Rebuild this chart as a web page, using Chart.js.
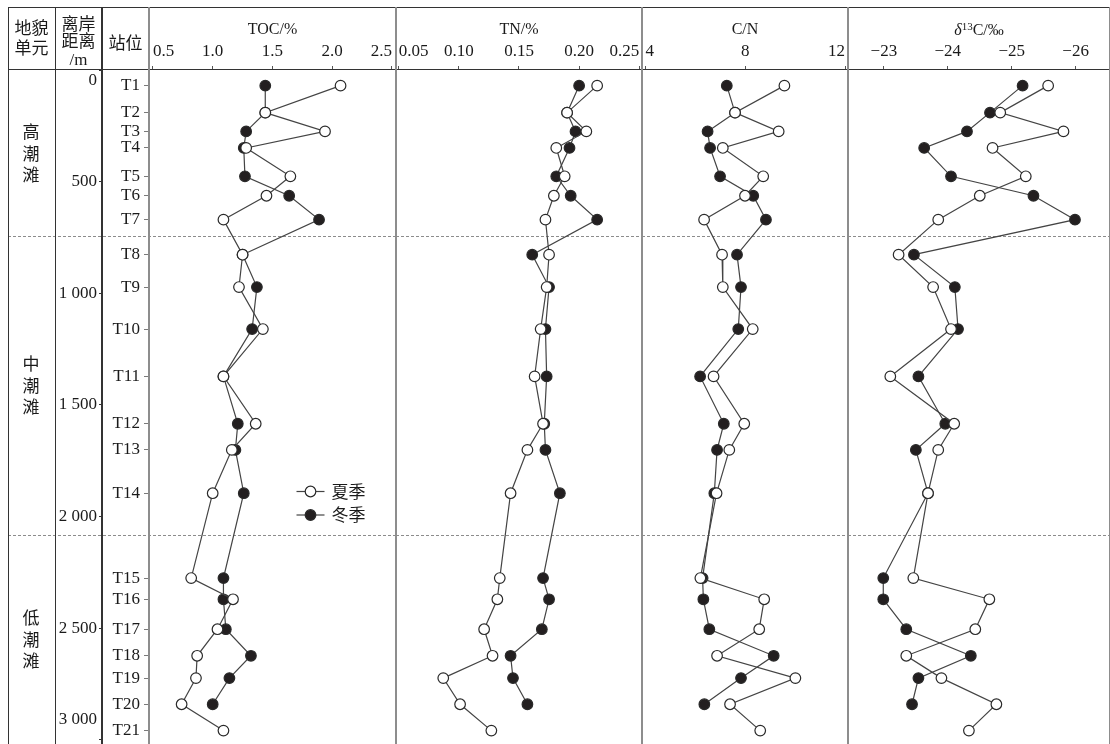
<!DOCTYPE html>
<html lang="zh">
<head>
<meta charset="UTF-8">
<title>潮滩沉积物 TOC、TN、C/N 与 δ13C 剖面</title>
<script src="https://cdn.jsdelivr.net/npm/chart.js"></script>
<style>
    body { margin: 0; background: #fff; }
    #fig {
        position: relative;
        width: 1110px;
        height: 744px;
        background: #fff;
        color: #1a1a1a;
        font-family: 'Liberation Serif', 'Noto Sans CJK SC', serif;
    }
    #fig canvas { position: absolute; top: 0; }
    .ln { position: absolute; background: #333; }
    .ln.v { top: 6.5px; height: 738px; width: 1.5px; }
    .ln.h { left: 8px; width: 1102px; height: 1.5px; }
    .ln.g { background: #8d8d8d; }
    .hd {
        position: absolute;
        text-align: center;
        font-size: 17px;
        font-family: 'Noto Sans CJK SC', sans-serif;
    }
    .hd .lat { font-family: 'Liberation Serif', serif; }
</style>
</head>
<body>
<div id="fig">
    <canvas id="cToc" style="left:8px" width="388" height="744"></canvas>
    <canvas id="cTn" style="left:396px" width="246" height="744"></canvas>
    <canvas id="cCn" style="left:642px" width="206" height="744"></canvas>
    <canvas id="cD13" style="left:848px" width="262" height="744"></canvas>

    <!-- table frame -->
    <div class="ln h" style="top:6.5px"></div>
    <div class="ln h" style="top:68.8px"></div>
    <div class="ln v" style="left:7.5px"></div>
    <div class="ln v" style="left:54.5px"></div>
    <div class="ln v" style="left:101px"></div>
    <div class="ln v g" style="left:148.3px"></div>
    <div class="ln v g" style="left:395.3px"></div>
    <div class="ln v g" style="left:641.3px"></div>
    <div class="ln v g" style="left:847.3px"></div>
    <div class="ln v g" style="left:1108.5px"></div>

    <!-- header cells of the left columns -->
    <div class="hd" style="left:8px; width:47px; top:17px; line-height:19.5px">地貌<br>单元</div>
    <div class="hd" style="left:55px; width:47px; top:13.5px; line-height:17.5px">离岸<br>距离<br><span class="lat">/m</span></div>
    <div class="hd" style="left:102px; width:47px; top:32px; line-height:19.5px">站位</div>
</div>

<script>
    // stations and their distance from shore (m)
    const stations = ['T1', 'T2', 'T3', 'T4', 'T5', 'T6', 'T7', 'T8', 'T9', 'T10', 'T11',
        'T12', 'T13', 'T14', 'T15', 'T16', 'T17', 'T18', 'T19', 'T20', 'T21'];
    const distance = [70, 191, 275, 349, 476, 563, 670, 827, 972, 1160, 1372,
        1584, 1701, 1895, 2275, 2370, 2504, 2623, 2723, 2840, 2958];
    const distTicks = [0, 500, 1000, 1500, 2000, 2500, 3000];
    const yMax = 3018;

    // geomorphic units
    const zoneNames = ['高潮滩', '中潮滩', '低潮滩'];
    const zoneEdges = [0, 745, 2080, 3018];

    // series (summer / winter), T21 has no winter sample
    const tocSummer = [2.07, 1.44, 1.94, 1.28, 1.65, 1.45, 1.09, 1.25, 1.22, 1.42, 1.09,
        1.36, 1.16, 1.00, 0.82, 1.17, 1.04, 0.87, 0.86, 0.74, 1.09];
    const tocWinter = [1.44, 1.44, 1.28, 1.26, 1.27, 1.64, 1.89, 1.25, 1.37, 1.33, 1.09,
        1.21, 1.19, 1.26, 1.09, 1.09, 1.11, 1.32, 1.14, 1.00, null];
    const tnSummer = [0.215, 0.190, 0.206, 0.181, 0.188, 0.179, 0.172, 0.175, 0.173, 0.168, 0.163,
        0.170, 0.157, 0.143, 0.134, 0.132, 0.121, 0.128, 0.087, 0.101, 0.127];
    const tnWinter = [0.200, 0.190, 0.197, 0.192, 0.181, 0.193, 0.215, 0.161, 0.175, 0.172, 0.173,
        0.171, 0.172, 0.184, 0.170, 0.175, 0.169, 0.143, 0.145, 0.157, null];
    const cnSummer = [9.57, 7.59, 9.34, 7.10, 8.72, 7.99, 6.35, 7.07, 7.10, 8.30, 6.73,
        7.96, 7.36, 6.85, 6.20, 8.76, 8.56, 6.87, 10.01, 7.39, 8.60];
    const cnWinter = [7.26, 7.59, 6.49, 6.59, 6.99, 8.32, 8.83, 7.67, 7.83, 7.72, 6.19,
        7.14, 6.87, 6.76, 6.29, 6.32, 6.56, 9.14, 7.83, 6.36, null];
    const d13Summer = [-25.57, -24.82, -25.81, -24.70, -25.22, -24.50, -23.85, -23.23, -23.77, -24.05, -23.10,
        -24.10, -23.85, -23.69, -23.46, -24.65, -24.43, -23.35, -23.90, -24.76, -24.33];
    const d13Winter = [-25.17, -24.66, -24.30, -23.63, -24.05, -25.34, -25.99, -23.47, -24.11, -24.16, -23.54,
        -23.96, -23.50, -23.69, -22.99, -22.99, -23.35, -24.36, -23.54, -23.44, null];

    // axis tick labels
    const tocTicks = [0.5, 1.0, 1.5, 2.0, 2.5];
    const tnTicks = [0.05, 0.10, 0.15, 0.20, 0.25];
    const cnTicks = [4, 8, 12];
    const d13Ticks = [-23, -24, -25, -26];

    Chart.defaults.font.family = "'Liberation Serif', 'Times New Roman', serif";
    Chart.defaults.color = '#1a1a1a';

    function profile(vals) {
        return vals.map((v, i) => v == null ? null : { x: v, y: distance[i] }).filter(p => p);
    }

    function seasonSets(summer, winter) {
        const base = { showLine: true, borderColor: '#444', borderWidth: 1.2, pointRadius: 5.3,
            pointBorderColor: '#2a2a2a', pointBorderWidth: 1.2, pointHoverRadius: 5.3 };
        return [
            Object.assign({ label: '夏季', data: profile(summer), pointBackgroundColor: '#fff', order: 0 }, base),
            Object.assign({ label: '冬季', data: profile(winter), pointBackgroundColor: '#231f20', order: 1 }, base)
        ];
    }

    function fmtDist(v) {
        const s = String(v).replace(/\B(?=(\d{3})+(?!\d))/g, ' ');
        if (v === 0) return ['', s];               // first label sits below the header line
        if (v === distTicks[distTicks.length - 1]) return [s, '', ''];
        return s;
    }

    // dashed unit boundaries across every panel
    const dashPlugin = {
        id: 'dash',
        beforeDatasetsDraw(chart) {
            const { ctx, scales: { y } } = chart;
            ctx.save();
            ctx.strokeStyle = '#8c8c8c';
            ctx.lineWidth = 1;
            ctx.setLineDash([3, 2]);
            zoneEdges.slice(1, -1).forEach(d => {
                const py = Math.round(y.getPixelForValue(d)) + 0.5;
                ctx.beginPath();
                ctx.moveTo(0, py);
                ctx.lineTo(chart.width, py);
                ctx.stroke();
            });
            ctx.restore();
        }
    };

    // unit names in the first column and the season legend
    const tocExtras = {
        id: 'tocExtras',
        afterDraw(chart) {
            const { ctx, chartArea, scales: { y } } = chart;
            ctx.save();
            ctx.fillStyle = '#1a1a1a';
            ctx.font = "17px 'Noto Sans CJK SC'";
            ctx.textAlign = 'center';
            ctx.textBaseline = 'middle';
            zoneNames.forEach((name, i) => {
                const mid = y.getPixelForValue((zoneEdges[i] + zoneEdges[i + 1]) / 2);
                [...name].forEach((ch, k) => ctx.fillText(ch, 23, mid + (k - 1) * 21.5));
            });

            const lx = chartArea.left + 161.5;
            const ly = chartArea.top + 421.5;
            chart.data.datasets.forEach((ds, i) => {
                const yy = ly + i * 23.5;
                ctx.strokeStyle = ds.borderColor;
                ctx.lineWidth = ds.borderWidth;
                ctx.beginPath();
                ctx.moveTo(lx - 14, yy);
                ctx.lineTo(lx + 14, yy);
                ctx.stroke();
                ctx.beginPath();
                ctx.arc(lx, yy, ds.pointRadius, 0, Math.PI * 2);
                ctx.fillStyle = ds.pointBackgroundColor;
                ctx.fill();
                ctx.strokeStyle = ds.pointBorderColor;
                ctx.lineWidth = ds.pointBorderWidth;
                ctx.stroke();
                ctx.fillStyle = '#1a1a1a';
                ctx.textAlign = 'left';
                ctx.fillText(ds.label, lx + 21, yy);
            });
            ctx.restore();
        }
    };

    // δ13C title with italic delta and raised 13
    const d13Title = {
        id: 'd13Title',
        afterDraw(chart) {
            const { ctx, chartArea } = chart;
            const parts = [
                { t: 'δ', f: "italic 16px 'Liberation Serif'", dy: 0 },
                { t: '13', f: "11px 'Liberation Serif'", dy: -5 },
                { t: 'C/‰', f: "16px 'Liberation Serif'", dy: 0 }
            ];
            ctx.save();
            ctx.fillStyle = '#1a1a1a';
            ctx.textBaseline = 'alphabetic';
            ctx.textAlign = 'left';
            let w = 0;
            parts.forEach(p => { ctx.font = p.f; p.w = ctx.measureText(p.t).width; w += p.w; });
            let x = (chartArea.left + chartArea.right) / 2 - w / 2;
            parts.forEach(p => { ctx.font = p.f; ctx.fillText(p.t, x, 34.5 + p.dy); x += p.w; });
            ctx.restore();
        }
    };

    function makePanel(id, cfg) {
        const side = cfg.leftAxes ? 47 : 0;
        const scales = {
            x: {
                type: 'linear',
                position: 'top',
                min: cfg.min,
                max: cfg.max,
                reverse: !!cfg.reverse,
                afterBuildTicks: s => { s.ticks = cfg.ticks.map(v => ({ value: v })); },
                afterFit: s => { s.height = 63; s.paddingLeft = 0; s.paddingRight = 0; },
                title: { display: !!cfg.title, text: cfg.title, font: { size: 16 }, padding: { top: 13, bottom: 0 } },
                ticks: { align: cfg.align, padding: 4, font: { size: 17 }, maxRotation: 0, autoSkip: false,
                    callback: cfg.fmt },
                grid: { drawOnChartArea: false, tickLength: 4, color: '#555' },
                border: { display: false }
            },
            y: {
                type: 'linear',
                min: 0,
                max: yMax,
                reverse: true,
                display: !!cfg.leftAxes,
                position: 'left',
                weight: 0,
                afterBuildTicks: s => { s.ticks = distance.map(v => ({ value: v })); },
                afterFit: s => { s.width = side; s.paddingTop = 0; s.paddingBottom = 0; },
                ticks: { padding: 4, font: { size: 17 }, autoSkip: false, callback: (v, i) => stations[i] },
                grid: { drawOnChartArea: false, tickLength: 5, color: '#7a7a7a' },
                border: { display: false }
            }
        };
        if (cfg.leftAxes) {
            scales.d = {
                type: 'linear',
                min: 0,
                max: yMax,
                reverse: true,
                position: 'left',
                weight: 1,
                afterBuildTicks: s => { s.ticks = distTicks.map(v => ({ value: v })); },
                afterFit: s => { s.width = 47; s.paddingTop = 0; s.paddingBottom = 0; },
                ticks: { padding: 2, font: { size: 17 }, autoSkip: false, callback: v => fmtDist(v) },
                grid: { drawOnChartArea: false, tickLength: 3, color: '#333' },
                border: { display: false }
            };
        }
        return new Chart(document.getElementById(id), {
            type: 'scatter',
            data: { datasets: seasonSets(cfg.summer, cfg.winter) },
            options: {
                responsive: false,
                animation: false,
                devicePixelRatio: 1,
                events: [],
                layout: { autoPadding: false, padding: { top: 7, left: side, right: 0, bottom: 0 } },
                scales: scales,
                plugins: { legend: { display: false }, tooltip: { enabled: false } }
            },
            plugins: [dashPlugin].concat(cfg.extra || [])
        });
    }

    makePanel('cToc', { title: 'TOC/%', min: 0.467, max: 2.534, ticks: tocTicks, align: 'inner',
        fmt: v => v.toFixed(1), summer: tocSummer, winter: tocWinter, leftAxes: true, extra: [tocExtras] });
    makePanel('cTn', { title: 'TN/%', min: 0.0477, max: 0.2523, ticks: tnTicks, align: 'inner',
        fmt: v => v.toFixed(2), summer: tnSummer, winter: tnWinter });
    makePanel('cCn', { title: 'C/N', min: 3.86, max: 12.12, ticks: cnTicks, align: 'inner',
        fmt: v => String(v), summer: cnSummer, winter: cnWinter });
    makePanel('cD13', { title: '', min: -26.538, max: -22.438, reverse: true, ticks: d13Ticks,
        align: 'center', fmt: v => '\u2212' + Math.abs(v), summer: d13Summer, winter: d13Winter,
        extra: [d13Title] });
</script>
</body>
</html>
